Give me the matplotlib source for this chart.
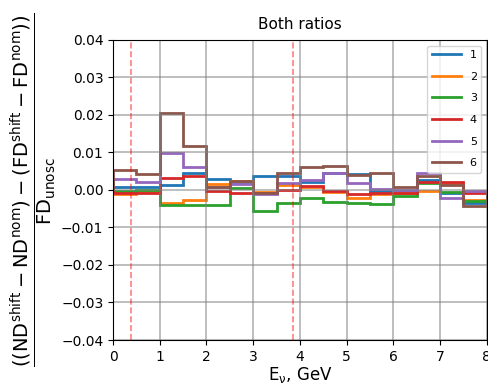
import matplotlib
matplotlib.use('Agg')
import matplotlib.pyplot as plt
import numpy as np

# bin edges in GeV, 0.5 GeV bins
edges = np.arange(0, 8.01, 0.5)

r1 = [0.0007, 0.0007, 0.0013, 0.0046, 0.0028, 0.0020, 0.0038, 0.0038,
      0.0020, 0.0044, 0.0043, -0.0004, -0.0004, 0.0026, -0.0009, -0.0036]
r2 = [-0.0010, -0.0006, -0.0036, -0.0027, 0.0017, 0.0024, -0.0005, 0.0013,
      0.0009, -0.0005, -0.0022, -0.0012, -0.0009, -0.0004, 0.0015, -0.0027]
r3 = [-0.0004, 0.0000, -0.0040, -0.0040, -0.0040, 0.0005, -0.0056, -0.0034,
      -0.0022, -0.0031, -0.0034, -0.0037, -0.0017, 0.0018, -0.0005, -0.0029]
r4 = [-0.0007, -0.0009, 0.0033, 0.0036, -0.0004, -0.0008, -0.0007, 0.0000,
      0.0011, -0.0004, -0.0012, -0.0007, -0.0009, 0.0022, 0.0022, -0.0007]
r5 = [0.0029, 0.0020, 0.0098, 0.0062, 0.0009, 0.0016, -0.0010, 0.0018,
      0.0027, 0.0046, 0.0018, 0.0002, 0.0000, 0.0044, -0.0022, -0.0004]
r6 = [0.0053, 0.0042, 0.0204, 0.0118, 0.0009, 0.0023, -0.0009, 0.0044,
      0.0060, 0.0064, 0.0040, 0.0046, 0.0007, 0.0036, 0.0013, -0.0044]
series = [r1, r2, r3, r4, r5, r6]
names = ['1', '2', '3', '4', '5', '6']

osc_lines = [0.385, 3.86]

fig = plt.figure(figsize=(4.88, 3.88), dpi=100)
ax = fig.add_axes([0.2316, 0.1237, 0.766, 0.7733])

for vals, nm in zip(series, names):
    ax.stairs(vals, edges, label=nm, linewidth=2)

for xv in osc_lines:
    ax.axvline(xv, color='red', linestyle='--', alpha=0.5, linewidth=1.2)

ax.set_xlim(0, 8)
ax.set_ylim(-0.04, 0.04)
ax.grid(True, color='gray', alpha=0.6, linewidth=1.2)
ax.set_title('Both ratios', fontsize=11, pad=8)
ax.set_xlabel(r'E$_\mathrm{\nu}$, GeV', fontsize=12, labelpad=1)
ax.set_ylabel(r'$\dfrac{\mathrm{((ND^{shift} - ND^{nom}) - (FD^{shift} - FD^{nom}))}}{\mathrm{FD_{unosc}}}$',
              fontsize=14, labelpad=2)
ax.tick_params(labelsize=10)
ax.legend(loc='upper right', fontsize=8, handlelength=2.6, labelspacing=1.05)

fig.savefig('out.png', dpi=100)
